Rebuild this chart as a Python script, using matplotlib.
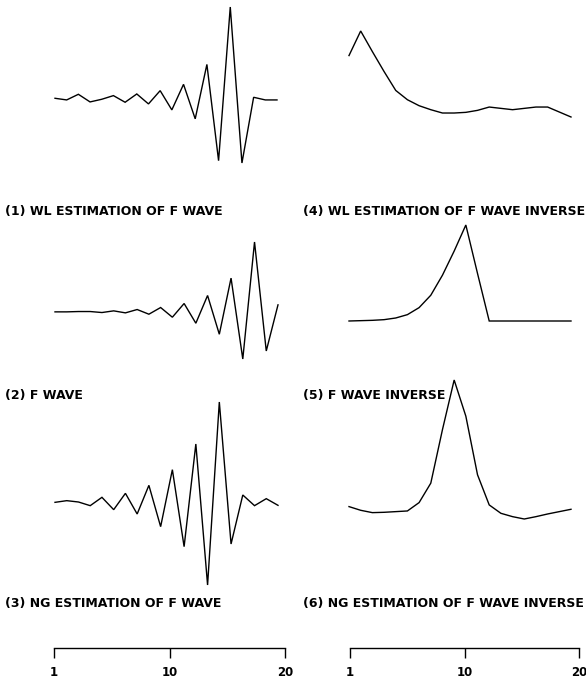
import matplotlib
matplotlib.use("Agg")
import matplotlib.pyplot as plt

# -- Config --------------------------------------------------------------------
W, H = 586, 680
DPI = 100
LINE_W = 1.0
TITLE_SIZE = 9
SCALE_SIZE = 8.5

# -- Data (amplitudes, arbitrary units) ----------------------------------------
samples = list(range(1, 21))

wl_f_wave = [3, -2, 15, -8, 0, 11, -9, 16, -14, 26,
             -32, 45, -59, 105, -185, 278, -192, 6, -2, -2]
f_wave = [0, 0, 1, 1, -2, 3, -3, 7, -7, 13,
          -16, 25, -34, 49, -67, 101, -141, 209, -117, 21]
ng_f_wave = [0, 5, 1, -10, 15, -22, 27, -35, 51, -73,
             98, -133, 175, -248, 301, -125, 22, -10, 11, -9]

wl_f_inverse = [193, 267, 205, 145, 88, 60, 42, 30, 20, 20,
                22, 28, 38, 34, 30, 34, 38, 38, 23, 8]
f_inverse = [0, 1, 2, 4, 9, 19, 40, 77, 137, 209,
             287, 142, 0, 0, 0, 0, 0, 0, 0, 0]
ng_f_inverse = [40, 29, 22, 23, 25, 27, 52, 110, 270, 418,
                310, 135, 45, 20, 10, 3, 10, 18, 25, 32]

titles = ["(1) WL ESTIMATION OF F WAVE",
          "(2) F WAVE",
          "(3) NG ESTIMATION OF F WAVE",
          "(4) WL ESTIMATION OF F WAVE INVERSE",
          "(5) F WAVE INVERSE",
          "(6) NG ESTIMATION OF F WAVE INVERSE"]

scale_ticks = [0, 10, 20]
scale_labels = ["1", "10", "20"]

# -- Layout (pixels) -------------------------------------------------------------
# (series, x_left, x_right, y_top, y_bottom)
panels = [
    (wl_f_wave,    55, 277,   7, 163),
    (f_wave,       55, 278, 242, 359),
    (ng_f_wave,    55, 278, 402, 585),
    (wl_f_inverse, 349, 571,  31, 117),
    (f_inverse,    349, 571, 225, 321),
    (ng_f_inverse, 349, 571, 380, 519),
]
title_pos = [(5, 211), (5, 396), (5, 604), (303, 211), (303, 396), (303, 604)]
scale_pos = [(54, 285), (350, 579)]
SCALE_Y = 648


def add_axes_px(fig, x0, x1, y_top, y_bot):
    return fig.add_axes([x0 / W, 1 - y_bot / H, (x1 - x0) / W, (y_bot - y_top) / H])


fig = plt.figure(figsize=(W / DPI, H / DPI), dpi=DPI)

for (vals, x0, x1, yt, yb) in panels:
    ax = add_axes_px(fig, x0, x1, yt, yb)
    ax.plot(samples, vals, color="black", linewidth=LINE_W, clip_on=False,
            solid_joinstyle="miter")
    ax.set_xlim(samples[0], samples[-1])
    ax.set_ylim(min(vals), max(vals))
    ax.axis("off")

for text, (tx, ty) in zip(titles, title_pos):
    fig.text(tx / W, 1 - ty / H, text, ha="left", va="center",
             fontsize=TITLE_SIZE, fontweight="bold", color="black")

# -- Scale bars ------------------------------------------------------------------
for (x0, x1) in scale_pos:
    ax = fig.add_axes([x0 / W, 1 - SCALE_Y / H, (x1 - x0) / W, 0.001])
    ax.set_xlim(scale_ticks[0], scale_ticks[-1])
    for side in ["top", "left", "right"]:
        ax.spines[side].set_visible(False)
    ax.spines["bottom"].set_linewidth(1.0)
    ax.set_yticks([])
    ax.set_xticks(scale_ticks)
    ax.set_xticklabels(scale_labels, fontsize=SCALE_SIZE, fontweight="bold")
    ax.tick_params(axis="x", direction="out", length=7, width=1.0, pad=6)
    ax.patch.set_visible(False)

plt.savefig("out.png", dpi=DPI)
plt.close()
